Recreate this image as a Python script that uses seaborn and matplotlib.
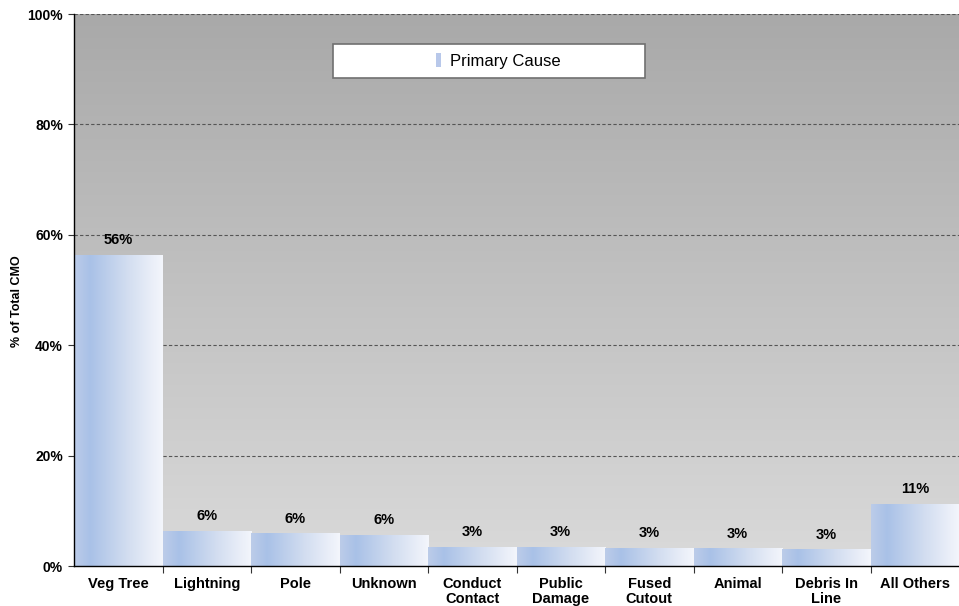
import numpy as np
import pandas as pd
import matplotlib
matplotlib.use("Agg")
import matplotlib.pyplot as plt
import seaborn as sns
from matplotlib.colors import LinearSegmentedColormap
from matplotlib.patches import Rectangle, Patch

categories = ["Veg Tree", "Lightning", "Pole", "Unknown", "Conduct\nContact",
              "Public\nDamage", "Fused\nCutout", "Animal", "Debris In\nLine", "All Others"]
values = [56.2, 6.3, 5.8, 5.6, 3.3, 3.3, 3.2, 3.1, 2.9, 11.1]
value_labels = ["56%", "6%", "6%", "6%", "3%", "3%", "3%", "3%", "3%", "11%"]
yticks = [0, 20, 40, 60, 80, 100]
ytick_labels = ["0%", "20%", "40%", "60%", "80%", "100%"]
series_name = "Primary Cause"
ylabel = "% of Total CMO"

sns.set_theme(style="white")
plt.rcParams['font.family'] = ['Liberation Sans', 'DejaVu Sans']
plt.rcParams['text.color'] = 'black'
plt.rcParams['xtick.color'] = 'black'
plt.rcParams['ytick.color'] = 'black'
plt.rcParams['axes.labelcolor'] = 'black'

fig = plt.figure(figsize=(9.59, 6.06), dpi=100)
ax = fig.add_axes([74 / 959, 40 / 606, 885 / 959, 552 / 606])

df = pd.DataFrame({"cause": categories, "pct": values})
sns.barplot(data=df, x="cause", y="pct", width=1.0, ax=ax, color="#b0c4e8",
            saturation=1, errorbar=None)

# background vertical gradient
bg = np.linspace(0, 1, 256).reshape(-1, 1)
bgcmap = LinearSegmentedColormap.from_list("bg", ["#dadada", "#a9a9a9"])
ax.imshow(bg, cmap=bgcmap, aspect="auto", extent=[0, 1, 0, 1],
          transform=ax.transAxes, origin="lower", zorder=0, interpolation="bilinear")

# bar horizontal gradients
barcmap = LinearSegmentedColormap.from_list(
    "bar", [(0.0, "#bccce9"), (0.18, "#a9c1e7"), (0.6, "#d2ddf0"), (1.0, "#f4f6fc")])
grad = np.linspace(0, 1, 256).reshape(1, -1)
for p in ax.patches:
    x0, y0, w, h = p.get_x(), p.get_y(), p.get_width(), p.get_height()
    ax.imshow(grad, cmap=barcmap, aspect="auto", extent=[x0, x0 + w, y0, y0 + h],
              zorder=2, interpolation="bilinear")
    p.set_facecolor("none")
    p.set_edgecolor("none")

ax.set_xlim(-0.5, 9.5)
ax.set_ylim(0, 100)

# grid
ax.yaxis.grid(True, linestyle=(0, (3, 2)), color="#555555", linewidth=0.8)
ax.xaxis.grid(False)
ax.set_axisbelow(True)
for gl in ax.get_ygridlines():
    gl.set_zorder(1)

# spines
for s in ["top", "right"]:
    ax.spines[s].set_visible(False)
for s in ["left", "bottom"]:
    ax.spines[s].set_color("black")
    ax.spines[s].set_linewidth(1.0)
    ax.spines[s].set_zorder(3)

# ticks
ax.set_yticks(yticks)
ax.set_yticklabels(ytick_labels, fontweight="bold", fontsize=10, color="black")
ax.tick_params(axis="y", left=True, length=4, width=0.8, color="#333333", pad=4)
ax.set_xticks(range(len(categories)))
ax.set_xticklabels(categories, fontweight="bold", fontsize=10.5, linespacing=1.05, color="black")
ax.set_xticks(np.arange(0.5, len(categories) - 0.5, 1), minor=True)
ax.tick_params(axis="x", which="major", bottom=True, length=0, pad=8)
ax.tick_params(axis="x", which="minor", bottom=True, length=5, width=0.8, color="#333333")

ax.set_xlabel("")
ax.set_ylabel(ylabel, fontweight="bold", fontsize=9, color="black")
ax.yaxis.set_label_coords((23 - 74) / 885, 0.48)

# value labels
ax.bar_label(ax.containers[0], labels=value_labels, padding=6,
             fontweight="bold", fontsize=10.5, color="black", zorder=4)

# legend
box = Rectangle((0.293, 0.884), 0.352, 0.062, transform=ax.transAxes,
                facecolor="white", edgecolor="#707070", linewidth=1.2, zorder=5)
ax.add_patch(box)
leg = ax.legend(handles=[Patch(facecolor="#b8c8ea", edgecolor="none", label=series_name)],
                loc="center", bbox_to_anchor=(0.479, 0.915), frameon=False,
                fontsize=12, handlelength=0.35, handleheight=0.9, handletextpad=0.5,
                labelcolor="black")
leg.set_zorder(6)

fig.savefig("out.png", dpi=100)
